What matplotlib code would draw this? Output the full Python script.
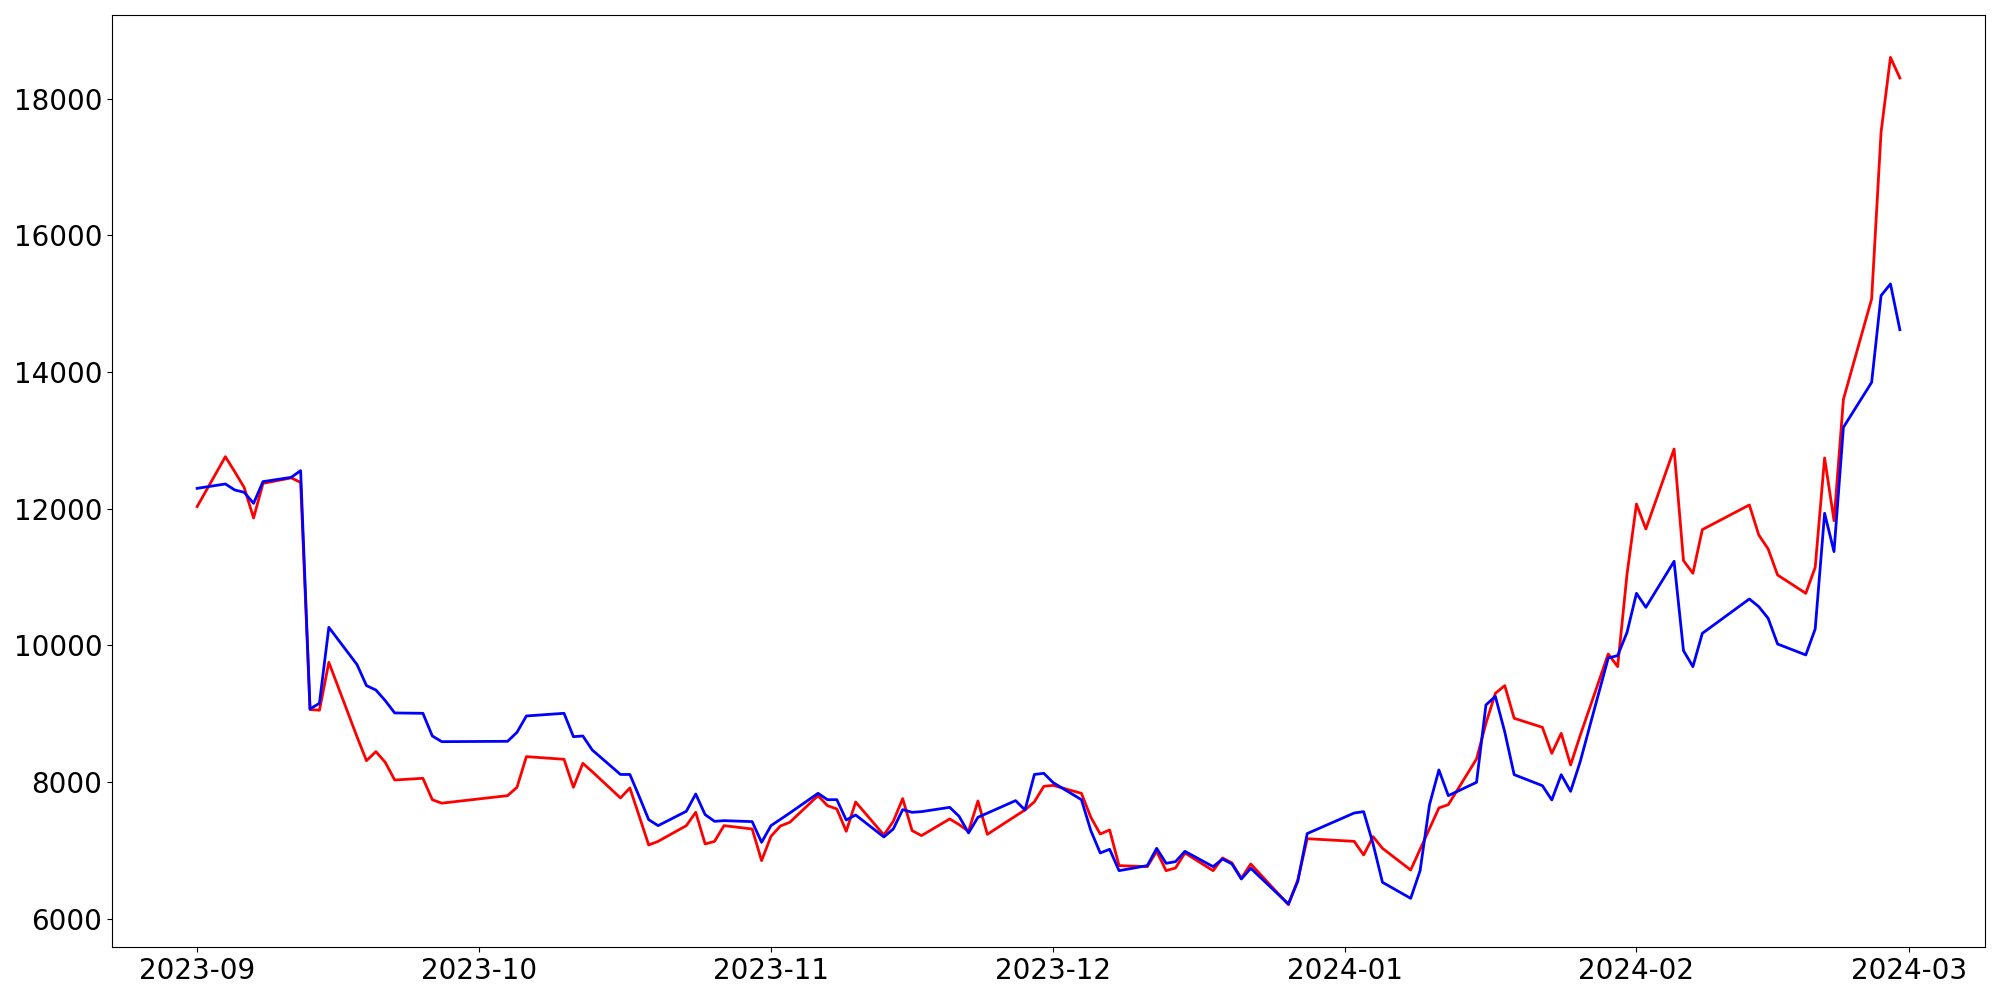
import pandas as pd
import matplotlib
matplotlib.use("Agg")
import matplotlib.pyplot as plt
import matplotlib.dates as mdates

# trading days, Sep 2023 - Feb 2024
dates = [
    "2023-09-01", "2023-09-04", "2023-09-05", "2023-09-06", "2023-09-07", "2023-09-08",
    "2023-09-11", "2023-09-12", "2023-09-13", "2023-09-14", "2023-09-15",
    "2023-09-18", "2023-09-19", "2023-09-20", "2023-09-21", "2023-09-22",
    "2023-09-25", "2023-09-26", "2023-09-27",
    "2023-10-04", "2023-10-05", "2023-10-06",
    "2023-10-10", "2023-10-11", "2023-10-12", "2023-10-13",
    "2023-10-16", "2023-10-17", "2023-10-18", "2023-10-19", "2023-10-20",
    "2023-10-23", "2023-10-24", "2023-10-25", "2023-10-26", "2023-10-27",
    "2023-10-30", "2023-10-31",
    "2023-11-01", "2023-11-02", "2023-11-03",
    "2023-11-06", "2023-11-07", "2023-11-08", "2023-11-09", "2023-11-10",
    "2023-11-13", "2023-11-14", "2023-11-15", "2023-11-16", "2023-11-17",
    "2023-11-20", "2023-11-21", "2023-11-22", "2023-11-23", "2023-11-24",
    "2023-11-27", "2023-11-28", "2023-11-29", "2023-11-30",
    "2023-12-01",
    "2023-12-04", "2023-12-05", "2023-12-06", "2023-12-07", "2023-12-08",
    "2023-12-11", "2023-12-12", "2023-12-13", "2023-12-14", "2023-12-15",
    "2023-12-18", "2023-12-19", "2023-12-20", "2023-12-21", "2023-12-22",
    "2023-12-26", "2023-12-27", "2023-12-28",
    "2024-01-02", "2024-01-03", "2024-01-04", "2024-01-05",
    "2024-01-08", "2024-01-09", "2024-01-10", "2024-01-11", "2024-01-12",
    "2024-01-15", "2024-01-16", "2024-01-17", "2024-01-18", "2024-01-19",
    "2024-01-22", "2024-01-23", "2024-01-24", "2024-01-25", "2024-01-26",
    "2024-01-29", "2024-01-30", "2024-01-31",
    "2024-02-01", "2024-02-02",
    "2024-02-05", "2024-02-06", "2024-02-07", "2024-02-08",
    "2024-02-13", "2024-02-14", "2024-02-15", "2024-02-16",
    "2024-02-19", "2024-02-20", "2024-02-21", "2024-02-22", "2024-02-23",
    "2024-02-26", "2024-02-27", "2024-02-28", "2024-02-29",
]

red_values = [
    12030, 12760, 12540, 12310, 11864, 12370, 12450, 12385, 9060, 9050, 9751,
    8659, 8312, 8444, 8287, 8029, 8054, 7740, 7690,
    7800, 7922, 8371, 8332, 7922, 8273, 8151, 7766, 7912, 7497, 7078, 7131,
    7361, 7556, 7093, 7131, 7361, 7312, 6849,
    7205, 7356, 7410, 7800, 7654, 7605, 7278, 7707, 7224, 7424, 7756, 7288, 7215,
    7459, 7376, 7278, 7722, 7234, 7502, 7590, 7710, 7936,
    7950, 7834, 7483, 7239, 7298, 6776, 6761, 6985, 6702, 6741, 6961,
    6702, 6888, 6815, 6590, 6800, 6205, 6566, 7170,
    7131, 6932, 7200, 7029, 6712, 7015, 7317, 7620, 7668, 8337, 8858, 9297, 9410, 8932,
    8800, 8419, 8712, 8249, 8673, 9873, 9688, 11044,
    12068, 11702, 12873, 11239, 11054, 11693, 12054, 11615, 11410, 11029,
    10761, 11141, 12742, 11824, 13600, 15069, 17507, 18604, 18302,
]

blue_values = [
    12297, 12361, 12273, 12239, 12078, 12395, 12458, 12556, 9069, 9151, 10263,
    9717, 9410, 9346, 9190, 9010, 9005, 8673, 8590,
    8595, 8727, 8966, 9005, 8663, 8673, 8468, 8110, 8110, 7785, 7449, 7361,
    7571, 7824, 7522, 7424, 7434, 7420, 7117,
    7361, 7453, 7546, 7834, 7741, 7741, 7444, 7517, 7195, 7312, 7595, 7556, 7566,
    7629, 7497, 7254, 7483, 7544, 7727, 7590, 8110, 8127,
    7990, 7741, 7288, 6961, 7015, 6702, 6776, 7029, 6810, 6834, 6985,
    6761, 6873, 6800, 6580, 6737, 6215, 6546, 7245,
    7546, 7566, 7095, 6532, 6297, 6702, 7668, 8176, 7800, 7995, 9127, 9253, 8732, 8107,
    7946, 7737, 8107, 7863, 8288, 9815, 9849, 10190,
    10761, 10556, 11229, 9922, 9688, 10175, 10678, 10566, 10395, 10019,
    9859, 10239, 11932, 11371, 13190, 13848, 15117, 15288, 14619,
]

x = pd.to_datetime(dates)

fig, ax = plt.subplots(figsize=(20, 10), dpi=100)
ax.plot(x, red_values, color="red", linewidth=2)
ax.plot(x, blue_values, color="blue", linewidth=2)

ax.xaxis.set_major_locator(mdates.MonthLocator())
ax.xaxis.set_major_formatter(mdates.DateFormatter("%Y-%m"))
ax.tick_params(labelsize=20)

plt.subplots_adjust(left=0.056, right=0.9925, top=0.985, bottom=0.053)
plt.savefig("out.png")
